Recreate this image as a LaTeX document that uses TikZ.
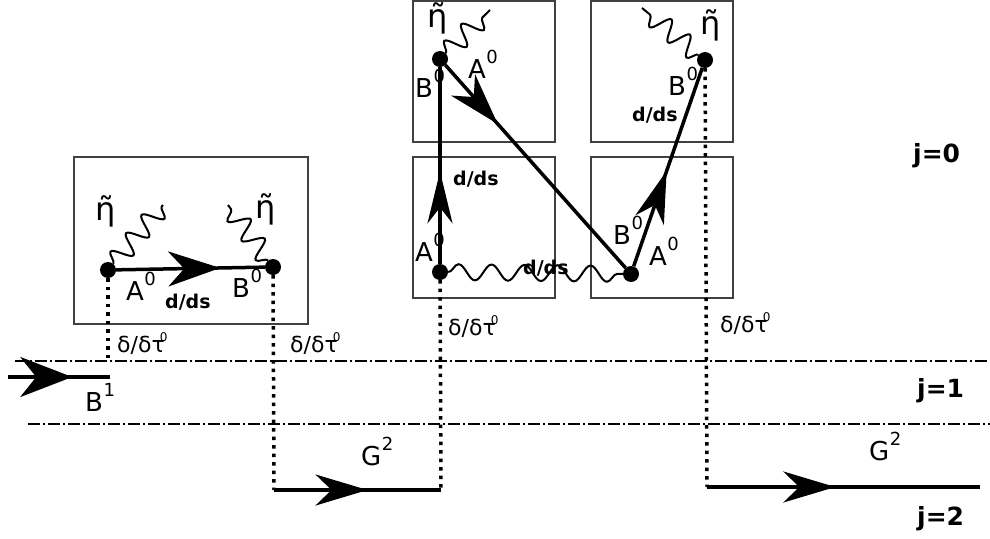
\documentclass[tikz,border=0pt]{standalone}
\usepackage{fontspec}
\setmainfont{DejaVu Sans}
\usetikzlibrary{arrows.meta,decorations.pathmorphing,decorations.markings}
\newcommand\supr[1]{\kern0.5pt\raisebox{15pt}{\fontsize{18}{18}\selectfont #1}}
\newcommand\ddt{δ/δτ\kern-5pt\raisebox{11pt}{\fontsize{12}{12}\selectfont 0}}
\begin{document}
\begin{tikzpicture}[x=1pt,y=-1pt,
  dot/.style={circle,fill=black,inner sep=0pt,minimum size=16pt},
  frame/.style={draw=black!75,line width=1.3pt,inner sep=0pt},
  prop/.style={line width=3.5pt},
  midarrow/.style 2 args={postaction={decorate},decoration={markings,mark=at position #1 with {\arrow{Stealth[length=52pt,width=#2,inset=16pt]}}}},
  wave/.style={line width=2pt,decorate,decoration={snake,amplitude=10pt,segment length=24pt}},
  dotline/.style={line width=3.5pt,dash pattern=on 3.5pt off 5pt},
  level/.style={line width=1.5pt,dash pattern=on 12pt off 3pt on 2pt off 3pt},
  lab/.style={anchor=base west,inner sep=0pt,font=\fontsize{26}{26}\selectfont},
  dds/.style={anchor=base west,inner sep=0pt,font=\fontsize{19}{19}\selectfont\bfseries},
  dlab/.style={anchor=base west,inner sep=0pt,font=\fontsize{22}{22}\selectfont},
  jlab/.style={anchor=base west,inner sep=0pt,font=\fontsize{25}{25}\selectfont\bfseries},
  eta/.style={inner sep=0pt,font=\fontsize{32}{32}\selectfont}
]
\useasboundingbox (0,0) rectangle (990,538);

% boxes
\node[frame,minimum width=234pt,minimum height=167pt] (boxL) at (191,240.5) {};
\node[frame,minimum width=142pt,minimum height=141pt] (boxTL) at (484,71.5) {};
\node[frame,minimum width=142pt,minimum height=141pt] (boxTR) at (662,71.5) {};
\node[frame,minimum width=142pt,minimum height=141pt] (boxBL) at (484,227.5) {};
\node[frame,minimum width=142pt,minimum height=141pt] (boxBR) at (662,227.5) {};

% level lines
\coordinate (l1a) at (15,361);
\coordinate (l1b) at (990,361);
\coordinate (l2a) at (28,424);
\coordinate (l2b) at (990,424);
\draw[level] (l1a) -- (l1b);
\draw[level] (l2a) -- (l2b);

% dots
\node[dot] (dA) at (108,270) {};
\node[dot] (dB) at (273,267) {};
\node[dot] (dTL) at (440,59) {};
\node[dot] (dTR) at (705,60) {};
\node[dot] (dBL) at (440,272) {};
\node[dot] (dBR) at (631,274) {};

% wave ends
\coordinate (wA) at (163,205);
\coordinate (wB) at (228,205);
\coordinate (wTL) at (490,10);
\coordinate (wTR) at (642,8);

% lower coordinates
\coordinate (cA) at (108,361);
\coordinate (g2La) at (274,490);
\coordinate (g2Lb) at (441,490);
\coordinate (g2Ra) at (707,487);
\coordinate (g2Rb) at (980,487);
\coordinate (b1a) at (8,377);
\coordinate (b1b) at (110,377);

% dotted lines
\draw[dotline] (dA) -- (cA);
\draw[dotline] (dB) -- (g2La);
\draw[dotline] (dBL) -- (g2Lb);
\draw[dotline] (dTR) -- (g2Ra);

% propagators
\draw[prop,midarrow={0.70}{35pt}] (dA) -- (dB);
\draw[prop,midarrow={0.47}{25pt}] (dBL) -- (dTL);
\draw[prop,midarrow={0.29}{32pt}] (dTL) -- (dBR);
\draw[prop,midarrow={0.48}{30pt}] (dBR) -- (dTR);
\draw[prop,midarrow={0.63}{40pt}] (b1a) -- (b1b);
\draw[prop,midarrow={0.56}{31pt}] (g2La) -- (g2Lb);
\draw[prop,midarrow={0.47}{31pt}] (g2Ra) -- (g2Rb);

% waves
\draw[wave] (dA) -- (wA);
\draw[wave] (dB) -- (wB);
\draw[wave] (dTL) -- (wTL);
\draw[wave] (dTR) -- (wTR);
\draw[line width=2pt,decorate,decoration={snake,amplitude=8pt,segment length=33pt}] (dBL) -- (dBR);

% eta labels
\node[eta] (eA) at (106,211) {η̃};
\node[eta] (eB) at (266,209) {η̃};
\node[eta] (eTL) at (438,18) {η̃};
\node[eta] (eTR) at (711,25) {η̃};

% labels left box
\node[lab] (tA0) at (126,300) {A\supr{0}};
\node[lab] (tB0) at (232,297) {B\supr{0}};
\node[dds] (tdds1) at (165,308) {d/ds};
\node[dlab] (tdL1) at (117,352) {\ddt};
\node[dlab] (tdL2) at (290,352) {\ddt};
\node[dlab] (tdM) at (448,335) {\ddt};
\node[dlab] (tdR) at (720,332) {\ddt};

% middle boxes labels
\node[lab] (tTLB) at (415,97) {B\supr{0}};
\node[lab] (tTLA) at (468,78) {A\supr{0}};
\node[lab] (tTRB) at (668,95) {B\supr{0}};
\node[dds] (tdds2) at (632,121) {d/ds};
\node[dds] (tdds3) at (453,185) {d/ds};
\node[lab] (tBLA) at (415,261) {A\supr{0}};
\node[dds] (tdds4) at (523,274) {d/ds};
\node[lab] (tBRB) at (613,244) {B\supr{0}};
\node[lab] (tBRA) at (649,265) {A\supr{0}};

% lower labels
\node[lab] (tB1) at (85,411) {B\supr{1}};
\node[lab] (tG2L) at (361,465) {G\supr{2}};
\node[lab] (tG2R) at (869,460) {G\supr{2}};

% level labels
\node[jlab] (j0) at (913,162) {j=0};
\node[jlab] (j1) at (917,397) {j=1};
\node[jlab] (j2) at (917,525) {j=2};
\end{tikzpicture}
\end{document}
